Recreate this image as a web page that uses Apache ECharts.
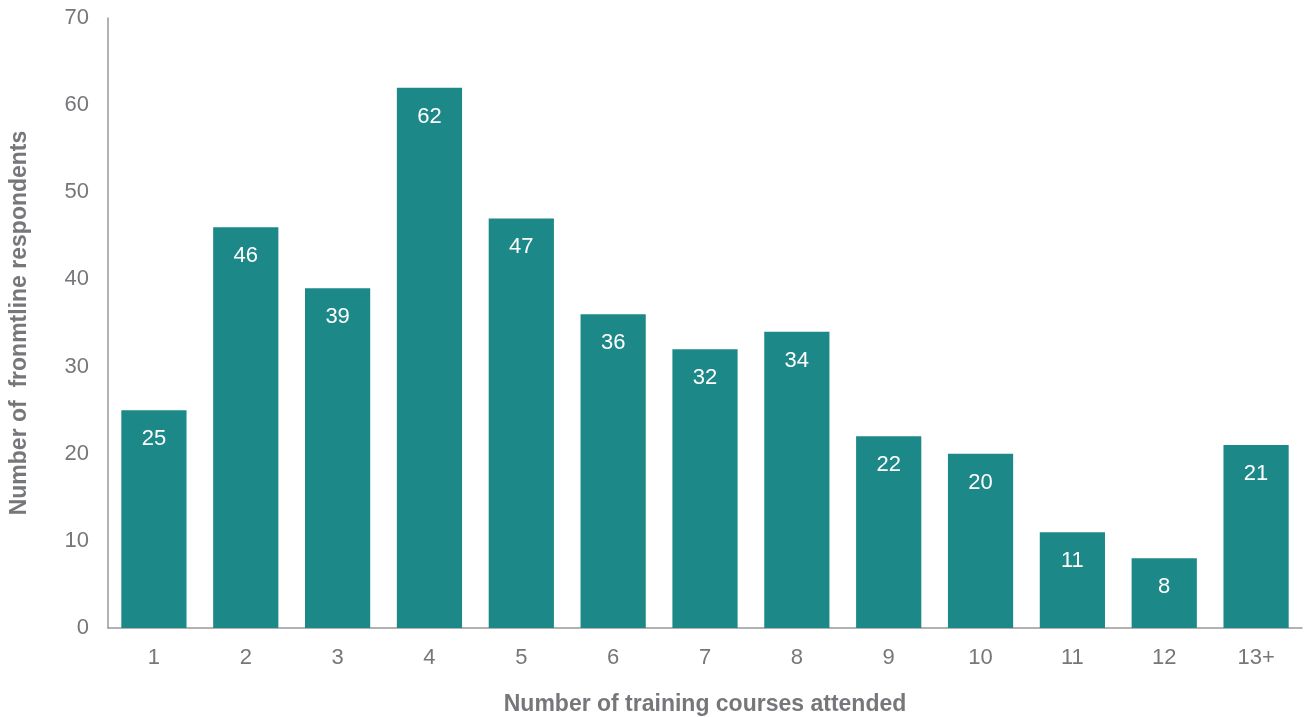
<!DOCTYPE html>
<html>
<head>
<meta charset="utf-8">
<script src="https://cdn.jsdelivr.net/npm/echarts@6/dist/echarts.min.js"></script>
<style>html,body{margin:0;padding:0;background:#fff;}#c{width:1308px;height:717px;}</style>
</head>
<body>
<div id="c"></div>
<script>
const categories = ['1','2','3','4','5','6','7','8','9','10','11','12','13+'];
const values = [25,46,39,62,47,36,32,34,22,20,11,8,21];
const yTicks = {min:0, max:70, interval:10};

const chart = echarts.init(document.getElementById('c'));
const font = '"Liberation Sans", Arial, Helvetica, sans-serif';
chart.setOption({
  animation:false,
  grid:{left:108, right:6, top:18, bottom:89, containLabel:false, outerBoundsMode:'none'},
  xAxis:{
    type:'category', data:categories,
    name:'Number of training courses attended', nameLocation:'middle', nameGap:65,
    nameTextStyle:{fontFamily:font, fontSize:23, fontWeight:'bold', color:'#76777a'},
    axisLine:{lineStyle:{color:'#999999', width:1.5}},
    axisTick:{show:false},
    axisLabel:{fontFamily:font, fontSize:22, color:'#76777a', margin:19}
  },
  yAxis:{
    type:'value', min:yTicks.min, max:yTicks.max, interval:yTicks.interval,
    name:'Number of  fronmtline respondents', nameLocation:'middle', nameGap:77,
    nameTextStyle:{fontFamily:font, fontSize:23, fontWeight:'bold', color:'#76777a'},
    axisLine:{show:true, lineStyle:{color:'#999999', width:1.5}},
    axisTick:{show:false},
    splitLine:{show:false},
    axisLabel:{fontFamily:font, fontSize:22, color:'#76777a', margin:19}
  },
  series:[{
    type:'bar', data:values, barCategoryGap:'29%',
    itemStyle:{color:'#1d8888'},
    label:{show:true, position:'insideTop', distance:18, color:'#ffffff', fontFamily:font, fontSize:22}
  }]
});
</script>
</body>
</html>
